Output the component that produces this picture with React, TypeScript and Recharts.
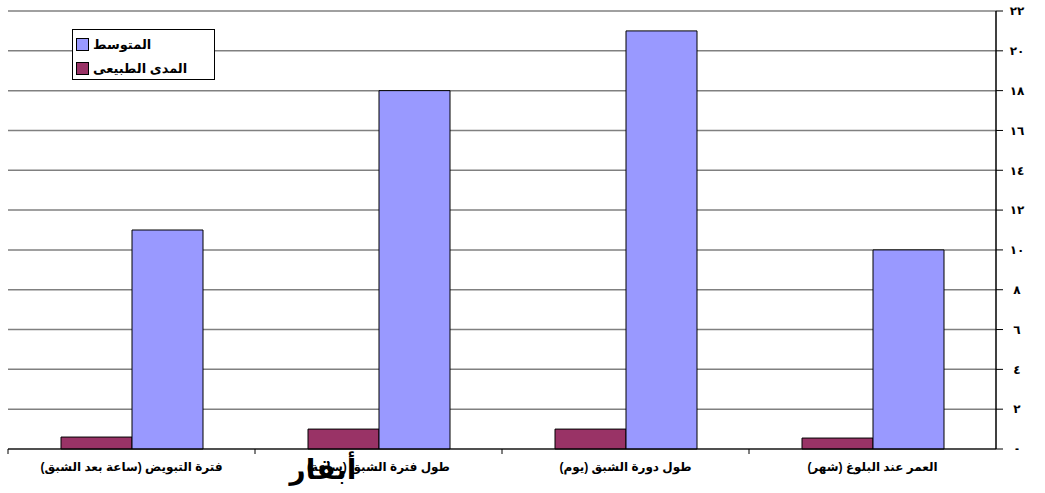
import React from 'react';
import { BarChart, Bar, XAxis, YAxis, CartesianGrid } from 'recharts';

// categories in sheet order (axis is drawn right-to-left)
const categories = [
  'العمر عند البلوغ (شهر)',
  'طول دورة الشبق (يوم)',
  'طول فترة الشبق (ساعة)',
  'فترة التبويض (ساعة بعد الشبق)',
];
const averageValues = [10, 21, 18, 11];
const rangeValues = [0.55, 1, 1, 0.6];
const yTicks = [0, 2, 4, 6, 8, 10, 12, 14, 16, 18, 20, 22];
const seriesNames = { average: 'المتوسط', range: 'المدى الطبيعى' };
const chartTitle = 'أبقار';

const AVG_COLOR = '#9999FF';
const RANGE_COLOR = '#993366';
const FONT = 'Arial, "Liberation Sans", "DejaVu Sans", sans-serif';

const data = categories.map((name, i) => ({
  name,
  average: averageValues[i],
  range: rangeValues[i],
}));

const arabicDigits = (v: number) =>
  v === 0 ? '-' : String(v).replace(/[0-9]/g, d => '٠١٢٣٤٥٦٧٨٩'[Number(d)]);

const PLOT_W = 988;
const HALF_BAND = PLOT_W / categories.length / 2;
const AXIS_Y = 449;

const CategoryTick = (props: any) => {
  const { x, payload } = props;
  return (
    <g>
      <line x1={x - HALF_BAND} x2={x - HALF_BAND} y1={AXIS_Y} y2={AXIS_Y + 5} stroke="#000" />
      <text
        x={x}
        y={AXIS_Y + 22}
        textAnchor="middle"
        direction="rtl"
        fontSize={12}
        fontWeight="bold"
        fill="#000"
        fontFamily={FONT}
      >
        {payload.value}
      </text>
    </g>
  );
};

const LegendBox = () => (
  <div
    style={{
      position: 'absolute',
      left: 72,
      top: 29,
      width: 143,
      height: 51,
      border: '1px solid #000',
      background: '#fff',
      fontFamily: FONT,
      fontWeight: 'bold',
      fontSize: 13,
      boxSizing: 'border-box',
      padding: '4px 0 0 3px',
    }}
  >
    {[
      { label: seriesNames.average, color: AVG_COLOR },
      { label: seriesNames.range, color: RANGE_COLOR },
    ].map(item => (
      <div key={item.label} style={{ display: 'flex', alignItems: 'center', height: 20, marginBottom: 4 }}>
        <span style={{ width: 11, height: 11, background: item.color, border: '1px solid #000', marginRight: 4 }} />
        <span>{item.label}</span>
      </div>
    ))}
  </div>
);

export default function App() {
  return (
    <div style={{ position: 'absolute', left: 0, top: 0, width: 1045, height: 493, background: '#fff', overflow: 'hidden' }}>
      <BarChart
        width={1045}
        height={493}
        data={data}
        margin={{ top: 11, right: 9, left: 8, bottom: 9 }}
        barGap={0}
      >
        <CartesianGrid vertical={false} stroke="#808080" strokeWidth={1.5} yAxisId="right" />
        <XAxis
          dataKey="name"
          reversed
          height={35}
          axisLine={{ stroke: '#000' }}
          tickLine={false}
          tick={<CategoryTick />}
          interval={0}
        />
        <XAxis xAxisId="top" dataKey="name" orientation="top" reversed height={0} tick={false} tickLine={false} axisLine={{ stroke: '#000' }} />
        <YAxis
          yAxisId="right"
          orientation="right"
          domain={[0, 22]}
          ticks={yTicks}
          interval={0}
          width={40}
          tickSize={7}
          tickFormatter={arabicDigits}
          axisLine={{ stroke: '#000', strokeWidth: 1.5 }}
          tickLine={{ stroke: '#000' }}
          tick={{ fill: '#000', fontSize: 12, fontWeight: 'bold', fontFamily: FONT, textAnchor: 'middle', dx: 12 }}
        />
        <YAxis yAxisId="left" orientation="left" width={0} domain={[0, 22]} tick={false} tickLine={false} axisLine={{ stroke: '#000', strokeWidth: 1.5 }} />
        <Bar yAxisId="right" dataKey="range" name={seriesNames.range} fill={RANGE_COLOR} stroke="#000" strokeWidth={1} barSize={71} isAnimationActive={false} />
        <Bar yAxisId="right" dataKey="average" name={seriesNames.average} fill={AVG_COLOR} stroke="#000" strokeWidth={1} barSize={71} isAnimationActive={false} />
      </BarChart>
      <LegendBox />
      <div
        style={{
          position: 'absolute',
          left: 283,
          top: 453,
          width: 80,
          textAlign: 'center',
          fontFamily: FONT,
          fontWeight: 'bold',
          fontSize: 28,
          color: '#000',
          pointerEvents: 'none',
        }}
      >
        {chartTitle}
      </div>
    </div>
  );
}
